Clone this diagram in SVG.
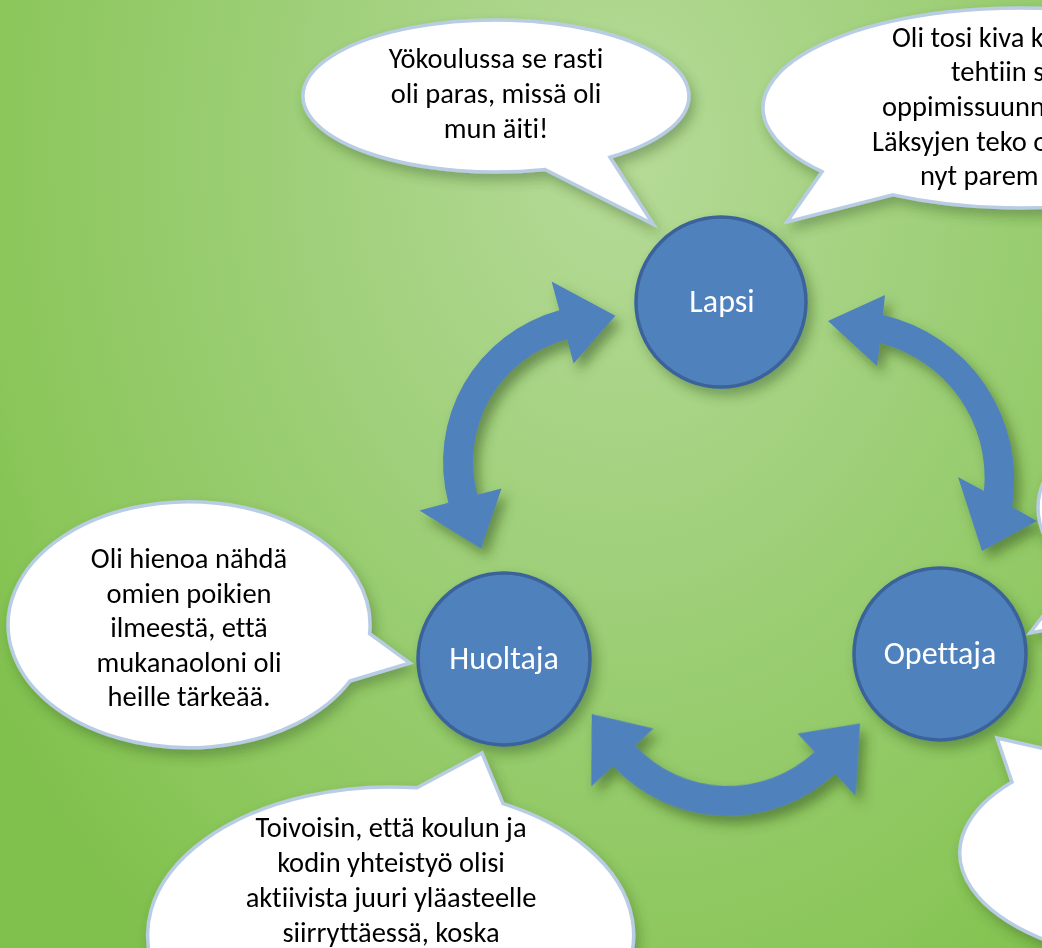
<svg xmlns="http://www.w3.org/2000/svg" xmlns:xlink="http://www.w3.org/1999/xlink" width="1042" height="948" viewBox="0 0 1042 948">
<style>
.arrow{fill:#4F81BD}
.node circle{fill:#4F81BD;stroke:#3A6399;stroke-width:3.5}
.node text{fill:#ffffff;font-family:Carlito,Lato,"Liberation Sans",sans-serif;font-size:32px;text-anchor:middle;font-variant-ligatures:none}
.bubble path{fill:#ffffff;stroke:#B8CCE4;stroke-width:3.5}
.bubble text{fill:#000000;font-family:Carlito,Lato,"Liberation Sans",sans-serif;font-size:28.5px;text-anchor:middle;font-variant-ligatures:none}
.bubble text.l{text-anchor:start}
</style>
<defs>
<radialGradient id="bgGrad" gradientUnits="userSpaceOnUse" cx="620" cy="150" r="750" gradientTransform="translate(620 150) scale(1 1.35) translate(-620 -150)">
<stop offset="0" stop-color="#B6DB98"/>
<stop offset="0.45" stop-color="#9ECF78"/>
<stop offset="0.85" stop-color="#8AC659"/>
<stop offset="1" stop-color="#80C04D"/>
</radialGradient>
<filter id="shArrow" x="-30%" y="-30%" width="160%" height="160%">
<feDropShadow dx="6" dy="8" stdDeviation="6" flood-color="#2b4a18" flood-opacity="0.5"/>
</filter>
<filter id="shNode" x="-30%" y="-30%" width="160%" height="160%">
<feDropShadow dx="5" dy="7" stdDeviation="6" flood-color="#2b4a18" flood-opacity="0.4"/>
</filter>
<filter id="shBubble" x="-20%" y="-20%" width="140%" height="150%">
<feDropShadow dx="4" dy="7" stdDeviation="6" flood-color="#2b4a18" flood-opacity="0.35"/>
</filter>
<path id="curvedArrow" d="M 111,-111 A 157 157 0 0 1 111,111 L 132.2,132.2 L 59.8,134.3 L 72.1,72.1 L 89.8,89.8 A 127 127 0 0 0 89.8,-89.8 L 72.1,-72.1 L 59.8,-134.3 L 132.2,-132.2 Z"/>
</defs>

<g id="background">
<rect x="0" y="0" width="1042" height="948" fill="url(#bgGrad)"/>
</g>

<g id="connectors" filter="url(#shArrow)">
<use xlink:href="#curvedArrow" class="arrow" transform="translate(600,462) rotate(210)"/>
<path class="arrow" d="M 883,315 A 169 169 0 0 1 1012,507 L 1037,521 L 982,551 L 958,477 L 984,491 A 139 139 0 0 0 880,343 L 877,366 L 828,321 L 885,295 Z"/>
<use xlink:href="#curvedArrow" class="arrow" transform="translate(728,659) rotate(92)"/>
</g>

<g id="node-lapsi" class="node" filter="url(#shNode)">
<circle cx="721" cy="302" r="85"/>
<text x="722" y="312">Lapsi</text>
</g>
<g id="node-huoltaja" class="node" filter="url(#shNode)">
<circle cx="504" cy="659" r="86"/>
<text x="504" y="669">Huoltaja</text>
</g>
<g id="node-opettaja" class="node" filter="url(#shNode)">
<circle cx="940" cy="654" r="86"/>
<text x="940" y="664">Opettaja</text>
</g>

<g id="bubble-lapsi" class="bubble" filter="url(#shBubble)">
<path d="M 545,169.5 L 653,224 L 610,157.3 A 193 76 0 1 0 545,169.5 Z"/>
<text x="496" y="68">Yökoulussa se rasti</text>
<text x="496" y="103">oli paras, missä oli</text>
<text x="496" y="138">mun äiti!</text>
</g>

<g id="bubble-lapsi-2" class="bubble" filter="url(#shBubble)">
<path d="M 822,171.7 L 787,222 L 893,194.9 A 257 100 0 1 0 822,171.7 Z"/>
<text class="l" x="892" y="47">Oli tosi kiva k</text>
<text class="l" x="951" y="81">tehtiin s</text>
<text class="l" x="882" y="116">oppimissuunn</text>
<text class="l" x="872" y="151">Läksyjen teko o</text>
<text class="l" x="920" y="185">nyt parem</text>
</g>

<g id="bubble-huoltaja" class="bubble" filter="url(#shBubble)">
<path d="M 350,681 L 410,663 L 369.6,633.6 A 181 123 0 1 0 350,681 Z"/>
<text x="189" y="568">Oli hienoa nähdä</text>
<text x="189" y="602.5">omien poikien</text>
<text x="189" y="637">ilmeestä, että</text>
<text x="189" y="671.5">mukanaoloni oli</text>
<text x="189" y="706">heille tärkeää.</text>
</g>

<g id="bubble-huoltaja-2" class="bubble" filter="url(#shBubble)">
<path d="M 417,787.8 L 482,753 L 503,803.7 A 243 148 0 1 1 417,787.8 Z"/>
<text x="391" y="837">Toivoisin, että koulun ja</text>
<text x="391" y="872">kodin yhteistyö olisi</text>
<text x="391" y="907">aktiivista juuri yläasteelle</text>
<text x="391" y="942">siirryttäessä, koska</text>
</g>

<g id="bubble-opettaja" class="bubble" filter="url(#shBubble)">
<path d="M 1075,573.2 L 1030,633 L 1150,610.5 A 222 118 0 1 0 1075,573.2 Z"/>
</g>

<g id="bubble-opettaja-2" class="bubble" filter="url(#shBubble)">
<path d="M 1012,782.1 L 997,738 L 1075,755.7 A 240 114 0 1 1 1012,782.1 Z"/>
</g>
</svg>
